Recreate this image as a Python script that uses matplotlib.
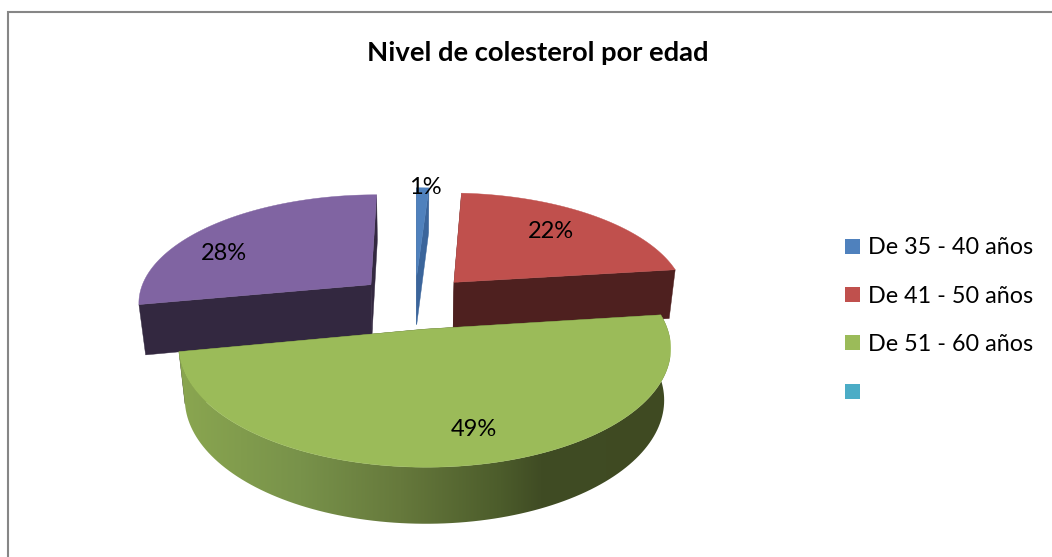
import matplotlib
matplotlib.use('Agg')
import matplotlib.pyplot as plt
from matplotlib.patches import Polygon, Rectangle
import numpy as np

title = 'Nivel de colesterol por edad'
values = [1, 22, 49, 28]
legend_labels = ['De 35 - 40 años', 'De 41 - 50 años', 'De 51 - 60 años', '']

top_colors = ['#4f81bd', '#c0504d', '#9bbb59', '#8064a2']
wall_colors = ['#3b659b', '#4e201f', '#3f4a22', '#332840']
legend_colors = ['#4f81bd', '#c0504d', '#9bbb59', '#4bacc6']
label_xy = [(425, 188), (551, 231), (474, 430), (224, 253)]

# side shading of the big slice, left to right
side_x = [180, 300, 400, 500, 540, 670]
side_colors = ['#8aa650', '#78924a', '#66793c', '#4c5c2b', '#404c24', '#3f4a22']

# projection settings, in pixels of the final image
CX, CY = 415, 301.5
SCALE = 234
TILT = np.radians(27.5)
PERSP = 0.15
PERSP_Z = 0.10
DEPTH = 0.248
EXPLODE = 0.25


def project(x, y, z):
    w = 1 + PERSP * y - PERSP_Z * z
    sx = CX + SCALE * x / w
    sy = CY - SCALE * (np.sin(TILT) * y + np.cos(TILT) * z) / w
    return np.column_stack([sx, sy])


def arc(t0, t1, dx, dy, z):
    t = np.linspace(t0, t1, 120)
    return project(np.sin(t) + dx, np.cos(t) + dy, np.full_like(t, z))


def point(t, r, dx, dy, z):
    return project(np.array([r * np.sin(t) + dx]), np.array([r * np.cos(t) + dy]), np.array([z]))


def radial_wall(ax, t, dx, dy, color, zorder):
    pts = np.vstack([point(t, 0, dx, dy, 0), point(t, 1, dx, dy, 0),
                     point(t, 1, dx, dy, -DEPTH), point(t, 0, dx, dy, -DEPTH)])
    ax.add_patch(Polygon(pts, closed=True, facecolor=color, edgecolor=color,
                         linewidth=0.3, zorder=zorder))


fig = plt.figure(figsize=(10.52, 5.57), dpi=100)
ax = fig.add_axes([0, 0, 1, 1])

ax.add_patch(Rectangle((7.5, 11.5), 1100, 600, facecolor='white', edgecolor='#868686', linewidth=1.5))

fractions = np.array(values) / sum(values)
edges = np.concatenate([[0], np.cumsum(fractions)]) * 2 * np.pi

# slices go from back to front: purple, blue, red, then the big green one
for i in [3, 0, 1, 2]:
    t0, t1 = edges[i], edges[i + 1]
    mid = (t0 + t1) / 2
    dx, dy = EXPLODE * np.sin(mid), EXPLODE * np.cos(mid)
    z = 2 + i if i != 2 else 10

    radial_wall(ax, t0, dx, dy, wall_colors[i], z)
    radial_wall(ax, t1, dx, dy, wall_colors[i], z)

    if i == 2:
        outer = np.vstack([arc(t0, t1, dx, dy, 0), arc(t0, t1, dx, dy, -DEPTH)[::-1]])
        clip = Polygon(outer, closed=True, transform=ax.transData, facecolor='none', edgecolor='none')
        ax.add_patch(clip)
        cols = np.array([matplotlib.colors.to_rgb(c) for c in side_colors])
        xs = np.arange(side_x[0], side_x[-1])
        grad = np.stack([np.interp(xs, side_x, cols[:, k]) for k in range(3)], axis=-1)[np.newaxis, :, :]
        im = ax.imshow(grad, extent=[side_x[0], side_x[-1], 560, 300], aspect='auto', zorder=z + 0.5)
        im.set_clip_path(clip)

    top = np.vstack([point(t0, 0, dx, dy, 0), arc(t0, t1, dx, dy, 0)])
    ax.add_patch(Polygon(top, closed=True, facecolor=top_colors[i], edgecolor=top_colors[i],
                         linewidth=0.3, zorder=z + 1))

for v, (lx, ly) in zip(values, label_xy):
    ax.text(lx, ly, f'{v}%', fontsize=17, family='Lato', color='black',
            ha='center', va='center', zorder=20)

ax.text(537.5, 53, title, fontsize=19.7, family='Lato', fontweight='bold',
        ha='center', va='center', color='black', zorder=20)

for k, (lab, col) in enumerate(zip(legend_labels, legend_colors)):
    y = 246.5 + k * 48.2
    ax.add_patch(Rectangle((845, y - 7.5), 15, 15, facecolor=col, edgecolor='none', zorder=5))
    ax.text(868, y + 1.5, lab, fontsize=16.8, family='Lato', ha='left', va='center', color='black', zorder=20)

ax.set_xlim(0, 1052)
ax.set_ylim(557, 0)
ax.axis('off')

fig.savefig('out.png', dpi=100, facecolor='white')
